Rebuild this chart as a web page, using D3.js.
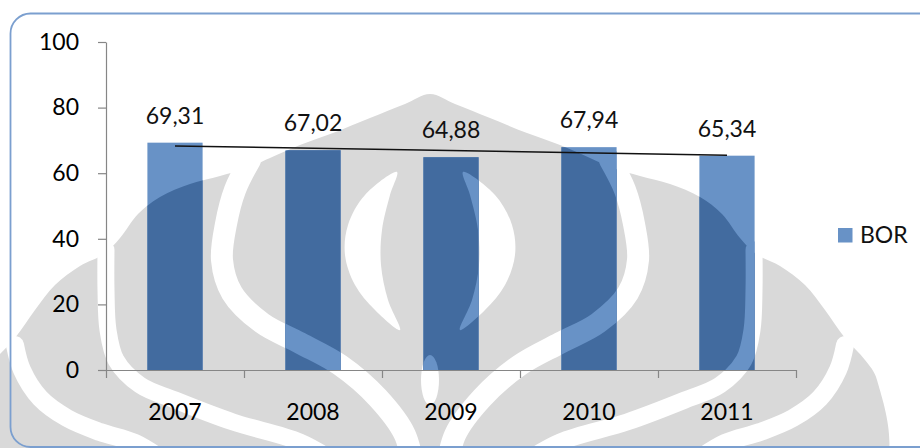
<!DOCTYPE html>
<html>
<head>
<meta charset="utf-8">
<script src="https://cdn.jsdelivr.net/npm/d3@7"></script>
<style>
body{margin:0;background:#fff;}
</style>
</head>
<body>
<svg id="chart"></svg>
<script>
//chart values
var years = ["2007","2008","2009","2010","2011"];
var borValues = [69.31, 67.02, 64.88, 67.94, 65.34];
var yTicks = [0,20,40,60,80,100];
var seriesName = "BOR";

var font = "Lato, 'Open Sans', sans-serif";
var fontSize = 23;
var lightBlue = "#6892c6";
var darkBlue = "#426b9f";
var markGray = "#d9d9d9";

//comma as decimal sign like the original
var locale = d3.formatLocale({decimal:",", thousands:".", grouping:[3], currency:["",""]});
var fmt = locale.format(".2f");

var svg = d3.select("#chart")
    .attr("width",920)
    .attr("height",448);

var xScale = d3.scaleBand()
    .domain(years)
    .range([106,796])
    .padding(0);

var yScale = d3.scaleLinear()
    .domain([0,100])
    .range([370,42]);

//excel gap width 150% -> bar is 40% of the band
var barW = xScale.bandwidth()*0.4;
var barX = function(d,i){ return xScale(years[i]) + (xScale.bandwidth()-barW)/2; };

//background logo (decoration only), left half, mirrored around x=430
var mirror = function(pts){ return pts.map(function(p){ return [860-p[0],p[1]]; }); };
var envLeft = [[430,94],[405,104],[370,118],[333,133],[300,145],[270,158],[247,168],[220,176],
    [190,184],[160,197],[138,214],[120,238],[104,254],[80,266],[55,285],[35,310],[15,338],
    [-5,360],[-17,380],[-17,480]];
var envelope = envLeft.concat(mirror(envLeft.slice(1)).reverse());
var gaps = [
    {w:22, pts:[[250,160],[235,190],[226,224],[222,260],[232,293],[262,323],[300,343],[340,365],[378,398],[405,435],[415,480]]},
    {w:17, pts:[[106,250],[106,290],[108,330],[116,360],[140,385],[175,400],[233,422],[300,442],[340,465]]},
    {w:18, pts:[[15,345],[22,370],[40,398],[67,418],[100,432],[135,443],[170,465]]}
];
var crescent = [[397,172],[365,195],[348,225],[345,255],[355,285],[375,310],[400,330],
    [388,300],[381,265],[382,230],[390,195]];

var drawMark = function(g, fill, gap)
{
    g.append("path")
        .attr("d", d3.line().curve(d3.curveCatmullRomClosed)(envelope))
        .attr("fill", fill);
    gaps.forEach(function(s)
    {
        [s.pts, mirror(s.pts)].forEach(function(p)
        {
            g.append("path")
                .attr("d", d3.line().curve(d3.curveCatmullRom)(p))
                .attr("fill","none")
                .attr("stroke",gap)
                .attr("stroke-width",s.w)
                .attr("stroke-linecap","round");
        });
    });
    [crescent, mirror(crescent)].forEach(function(p)
    {
        g.append("path")
            .attr("d", d3.line().curve(d3.curveCatmullRomClosed)(p))
            .attr("fill",gap);
    });
    g.append("ellipse")
        .attr("cx",430).attr("cy",380)
        .attr("rx",9).attr("ry",25)
        .attr("fill",gap);
};

drawMark(svg.append("g"), markGray, "#fff");

//bars
svg.append("g")
    .selectAll("rect")
    .data(borValues)
    .enter()
    .append("rect")
    .attr("x", barX)
    .attr("y", function(d){ return yScale(d); })
    .attr("width", barW)
    .attr("height", function(d){ return yScale(0)-yScale(d); })
    .attr("fill", lightBlue);

//logo seen through the bars is darker
svg.append("defs")
    .append("clipPath")
    .attr("id","barClip")
    .selectAll("rect")
    .data(borValues)
    .enter()
    .append("rect")
    .attr("x", barX)
    .attr("y", function(d){ return yScale(d); })
    .attr("width", barW)
    .attr("height", function(d){ return yScale(0)-yScale(d); });

drawMark(svg.append("g").attr("clip-path","url(#barClip)"), darkBlue, lightBlue);

//axes
var yAxis = d3.axisLeft(yScale)
    .tickValues(yTicks)
    .tickSize(8)
    .tickSizeOuter(0)
    .tickPadding(19);

var xAxis = d3.axisBottom(xScale)
    .tickSize(0)
    .tickSizeOuter(8);

var gy = svg.append("g")
    .attr("transform","translate(106,0)")
    .call(yAxis);

var gx = svg.append("g")
    .attr("transform","translate(0,"+yScale(0)+")")
    .call(xAxis);

gx.selectAll(".boundary")
    .data(years.slice(1))
    .enter()
    .append("line")
    .attr("x1", function(d){ return xScale(d)+0.5; })
    .attr("x2", function(d){ return xScale(d)+0.5; })
    .attr("y1", 0)
    .attr("y2", 8);

[gx, gy].forEach(function(g)
{
    g.attr("font-family", font).attr("font-size", fontSize);
    g.selectAll("path, line").attr("stroke","#868686").attr("stroke-width",1.2);
    g.selectAll("text").attr("fill","#000");
});
gx.selectAll("text").attr("y",50).attr("dy","0");

//linear trend line
var xs = d3.range(borValues.length);
var mx = d3.mean(xs), my = d3.mean(borValues);
var slope = d3.sum(xs, function(x,i){ return (x-mx)*(borValues[i]-my); }) /
            d3.sum(xs, function(x){ return (x-mx)*(x-mx); });
var icpt = my - slope*mx;
var last = borValues.length-1;

svg.append("line")
    .attr("x1", xScale(years[0]) + xScale.bandwidth()/2)
    .attr("x2", xScale(years[last]) + xScale.bandwidth()/2)
    .attr("y1", yScale(icpt))
    .attr("y2", yScale(icpt + slope*last))
    .attr("stroke","#111")
    .attr("stroke-width",1.6);

//value labels
svg.append("g")
    .selectAll("text")
    .data(borValues)
    .enter()
    .append("text")
    .attr("x", function(d,i){ return xScale(years[i]) + xScale.bandwidth()/2; })
    .attr("y", function(d){ return yScale(d) - 19; })
    .attr("text-anchor","middle")
    .attr("font-family", font)
    .attr("font-size", fontSize)
    .attr("fill","#111")
    .text(function(d){ return fmt(d); });

//legend
svg.append("rect")
    .attr("x",838).attr("y",228)
    .attr("width",14.5).attr("height",14.5)
    .attr("fill",lightBlue);
svg.append("text")
    .attr("x",860).attr("y",242.5)
    .attr("font-family", font)
    .attr("font-size", fontSize)
    .attr("fill","#111")
    .text(seriesName);

//chart border
svg.append("rect")
    .attr("x",10.5).attr("y",13.5)
    .attr("width",940).attr("height",433.5)
    .attr("rx",20)
    .attr("fill","none")
    .attr("stroke","#7b9fcf")
    .attr("stroke-width",1.8);
</script>
</body>
</html>
